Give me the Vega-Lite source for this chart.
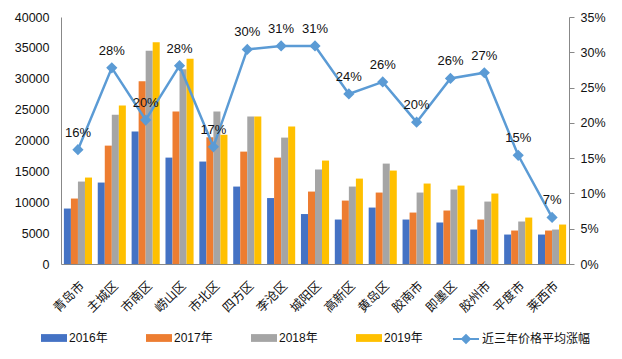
{
  "$schema": "https://vega.github.io/schema/vega-lite/v6.json",
  "width": 508,
  "height": 247,
  "autosize": {"type": "none"},
  "padding": {"left": 61, "top": 17, "right": 53, "bottom": 95},
  "background": "white",
  "config": {
    "view": {"stroke": null},
    "font": "'Liberation Sans', 'Noto Sans CJK SC'",
    "axis": {"grid": false, "labelColor": "#111", "domainColor": "#888", "tickColor": "#888", "labelFontSize": 12.5, "labelFont": "'Liberation Sans', 'Noto Sans CJK SC'"},
    "legend": {"labelColor": "#111", "labelFontSize": 12, "padding": 0, "labelFont": "'Liberation Sans', 'Noto Sans CJK SC'"}
  },
  "datasets": {
    "prices": [
      {"district": "青岛市", "year": "2016年", "price": 8980},
      {"district": "青岛市", "year": "2017年", "price": 10600},
      {"district": "青岛市", "year": "2018年", "price": 13350},
      {"district": "青岛市", "year": "2019年", "price": 14000},
      {"district": "主城区", "year": "2016年", "price": 13190},
      {"district": "主城区", "year": "2017年", "price": 19170},
      {"district": "主城区", "year": "2018年", "price": 24170},
      {"district": "主城区", "year": "2019年", "price": 25650},
      {"district": "市南区", "year": "2016年", "price": 21440},
      {"district": "市南区", "year": "2017年", "price": 29580},
      {"district": "市南区", "year": "2018年", "price": 34550},
      {"district": "市南区", "year": "2019年", "price": 35900},
      {"district": "崂山区", "year": "2016年", "price": 17230},
      {"district": "崂山区", "year": "2017年", "price": 24680},
      {"district": "崂山区", "year": "2018年", "price": 31520},
      {"district": "崂山区", "year": "2019年", "price": 33250},
      {"district": "市北区", "year": "2016年", "price": 16590},
      {"district": "市北区", "year": "2017年", "price": 20520},
      {"district": "市北区", "year": "2018年", "price": 24680},
      {"district": "市北区", "year": "2019年", "price": 20950},
      {"district": "四方区", "year": "2016年", "price": 12540},
      {"district": "四方区", "year": "2017年", "price": 18200},
      {"district": "四方区", "year": "2018年", "price": 23870},
      {"district": "四方区", "year": "2019年", "price": 23870},
      {"district": "李沧区", "year": "2016年", "price": 10680},
      {"district": "李沧区", "year": "2017年", "price": 17230},
      {"district": "李沧区", "year": "2018年", "price": 20470},
      {"district": "李沧区", "year": "2019年", "price": 22250},
      {"district": "城阳区", "year": "2016年", "price": 8090},
      {"district": "城阳区", "year": "2017年", "price": 11730},
      {"district": "城阳区", "year": "2018年", "price": 15290},
      {"district": "城阳区", "year": "2019年", "price": 16750},
      {"district": "高新区", "year": "2016年", "price": 7200},
      {"district": "高新区", "year": "2017年", "price": 10270},
      {"district": "高新区", "year": "2018年", "price": 12540},
      {"district": "高新区", "year": "2019年", "price": 13830},
      {"district": "黄岛区", "year": "2016年", "price": 9140},
      {"district": "黄岛区", "year": "2017年", "price": 11570},
      {"district": "黄岛区", "year": "2018年", "price": 16260},
      {"district": "黄岛区", "year": "2019年", "price": 15130},
      {"district": "胶南市", "year": "2016年", "price": 7200},
      {"district": "胶南市", "year": "2017年", "price": 8330},
      {"district": "胶南市", "year": "2018年", "price": 11570},
      {"district": "胶南市", "year": "2019年", "price": 13030},
      {"district": "即墨区", "year": "2016年", "price": 6720},
      {"district": "即墨区", "year": "2017年", "price": 8660},
      {"district": "即墨区", "year": "2018年", "price": 12060},
      {"district": "即墨区", "year": "2019年", "price": 12700},
      {"district": "胶州市", "year": "2016年", "price": 5580},
      {"district": "胶州市", "year": "2017年", "price": 7200},
      {"district": "胶州市", "year": "2018年", "price": 10110},
      {"district": "胶州市", "year": "2019年", "price": 11410},
      {"district": "平度市", "year": "2016年", "price": 4770},
      {"district": "平度市", "year": "2017年", "price": 5420},
      {"district": "平度市", "year": "2018年", "price": 6880},
      {"district": "平度市", "year": "2019年", "price": 7520},
      {"district": "莱西市", "year": "2016年", "price": 4770},
      {"district": "莱西市", "year": "2017年", "price": 5420},
      {"district": "莱西市", "year": "2018年", "price": 5580},
      {"district": "莱西市", "year": "2019年", "price": 6390}
    ],
    "growth": [
      {"district": "青岛市", "growth": 0.162},
      {"district": "主城区", "growth": 0.278},
      {"district": "市南区", "growth": 0.204},
      {"district": "崂山区", "growth": 0.281},
      {"district": "市北区", "growth": 0.166},
      {"district": "四方区", "growth": 0.304},
      {"district": "李沧区", "growth": 0.309},
      {"district": "城阳区", "growth": 0.309},
      {"district": "高新区", "growth": 0.241},
      {"district": "黄岛区", "growth": 0.258},
      {"district": "胶南市", "growth": 0.201},
      {"district": "即墨区", "growth": 0.263},
      {"district": "胶州市", "growth": 0.271},
      {"district": "平度市", "growth": 0.154},
      {"district": "莱西市", "growth": 0.066}
    ]
  },
  "encoding": {
    "x": {
      "field": "district",
      "type": "nominal",
      "sort": null,
      "scale": {"domain": ["青岛市", "主城区", "市南区", "崂山区", "市北区", "四方区", "李沧区", "城阳区", "高新区", "黄岛区", "胶南市", "即墨区", "胶州市", "平度市", "莱西市"], "paddingInner": 0.17, "paddingOuter": 0.085},
      "axis": {"title": null, "labelAngle": -45, "ticks": false, "labelPadding": 15, "labelFontSize": 12.5, "labelFont": "Noto Sans CJK SC"}
    }
  },
  "layer": [
    {
      "data": {"name": "prices"},
      "mark": {"type": "bar"},
      "encoding": {
        "xOffset": {"field": "year", "type": "nominal", "sort": null},
        "y": {
          "field": "price",
          "type": "quantitative",
          "scale": {"domain": [0, 40000]},
          "axis": {"title": null, "values": [0, 5000, 10000, 15000, 20000, 25000, 30000, 35000, 40000], "format": "d", "ticks": false, "labelPadding": 12}
        },
        "color": {
          "field": "year",
          "type": "nominal",
          "scale": {"domain": ["2016年", "2017年", "2018年", "2019年"], "range": ["#4472C4", "#ED7D31", "#A5A5A5", "#FFC000"]},
          "legend": {"title": null, "orient": "none", "legendX": -20, "legendY": 308, "direction": "horizontal", "columns": 4, "columnPadding": 38, "symbolType": "M-1,-0.3H1V0.3H-1Z", "symbolSize": 676, "labelOffset": 2, "symbolStrokeWidth": 0}
        }
      }
    },
    {
      "data": {"name": "growth"},
      "encoding": {
        "y": {
          "field": "growth",
          "type": "quantitative",
          "scale": {"domain": [0, 0.35]},
          "axis": {"orient": "right", "title": null, "values": [0, 0.05, 0.1, 0.15, 0.2, 0.25, 0.3, 0.35], "format": ".0%", "tickSize": 5, "labelPadding": 6}
        }
      },
      "layer": [
        {
          "mark": {"type": "line", "strokeWidth": 2.5, "point": {"shape": "diamond", "size": 70, "filled": true, "color": "#5B9BD5"}},
          "encoding": {
            "stroke": {
              "datum": "近三年价格平均涨幅",
              "scale": {"range": ["#5B9BD5"]},
              "legend": {"title": null, "orient": "none", "legendX": 391, "legendY": 308, "symbolType": "M-1,0H1M-0.3,0L0,-0.3L0.3,0L0,0.3Z", "symbolSize": 676, "symbolStrokeWidth": 2, "labelOffset": 2, "encode": {"symbols": {"update": {"fill": {"value": "#5B9BD5"}}}}}
            }
          }
        },
        {
          "mark": {"type": "text", "dy": -17, "fontSize": 13, "color": "#111"},
          "encoding": {"text": {"field": "growth", "type": "quantitative", "format": ".0%"}}
        }
      ]
    }
  ],
  "resolve": {"scale": {"y": "independent"}}
}
